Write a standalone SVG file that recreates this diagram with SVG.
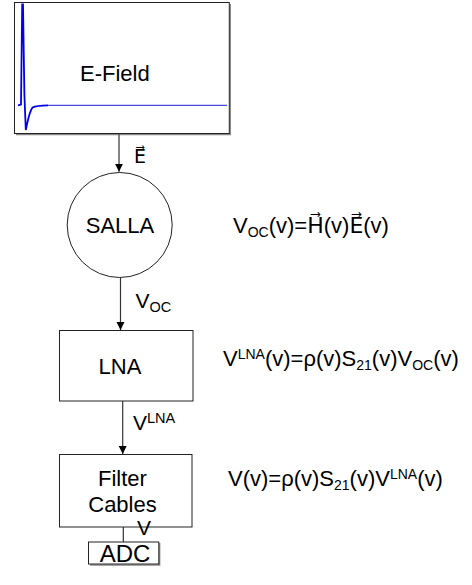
<svg xmlns="http://www.w3.org/2000/svg" width="472" height="585" viewBox="0 0 472 585">
<style>
text{font-family:"Liberation Sans",Arial,"DejaVu Sans",sans-serif;fill:#000}
.box{fill:#fff;stroke:#222;stroke-width:1}
.shadow{fill:none;stroke:#888;stroke-width:1.5}
.conn{stroke:#333;stroke-width:1.2;fill:none}
.big{font-size:22px}
.sub{font-size:14px}
</style>
<defs>
<marker id="ah" viewBox="0 0 10 10" refX="10" refY="5" markerWidth="8" markerHeight="10" markerUnits="userSpaceOnUse" orient="auto">
<path d="M0,0 L10,5 L0,10 Z" fill="#000"/>
</marker>
</defs>
<rect width="472" height="585" fill="#fff"/>

<g id="efield">
<polyline class="shadow" points="230.2,4 230.2,134.6 16,134.6"/>
<rect class="box" x="14.5" y="2.5" width="214.8" height="131"/>
<path d="M18,105.3 L21,104.5 L22.2,4.5 L23,4.5 L24.4,95 L25.8,130 C27.2,124 29,112 32.5,107.5 C35.5,105.8 40,105.4 48,105.3" fill="none" stroke="#0000ee" stroke-width="1.8"/>
<path d="M48,105.3 L227,105.3" fill="none" stroke="#4a4ae0" stroke-width="1.2"/>
<text class="big" x="80" y="81">E-Field</text>
</g>

<g id="salla">
<circle cx="119.7" cy="225" r="52.5" fill="#fff" stroke="#222" stroke-width="1"/>
<text class="big" x="120" y="233" text-anchor="middle">SALLA</text>
</g>

<g id="lna">
<rect class="box" x="59.5" y="330.5" width="133.5" height="70.5"/>
<text class="big" x="120" y="374" text-anchor="middle">LNA</text>
</g>

<g id="filter">
<rect class="box" x="59.5" y="454.5" width="132.5" height="72.5"/>
<text class="big" x="122.5" y="486" text-anchor="middle">Filter</text>
<text class="big" x="122.5" y="511.7" text-anchor="middle">Cables</text>
</g>

<g id="adc">
<polyline class="shadow" points="159.6,543 159.6,565 90,565"/>
<rect class="box" x="88.5" y="542" width="70.3" height="22"/>
<text x="125" y="562" text-anchor="middle" font-size="24">ADC</text>
</g>

<g id="connectors">
<line class="conn" x1="119" y1="134.6" x2="119" y2="171.8" marker-end="url(#ah)"/>
<line class="conn" x1="120.5" y1="277.5" x2="120.5" y2="330" marker-end="url(#ah)"/>
<line class="conn" x1="122.7" y1="401" x2="122.7" y2="454" marker-end="url(#ah)"/>
<line class="conn" x1="123.3" y1="527" x2="123.3" y2="542"/>
</g>

<g id="labels">
<text x="134" y="163" font-size="19">E&#x20D7;</text>
<text x="135.5" y="308" font-size="21">V<tspan font-size="14.5" dy="4">OC</tspan></text>
<text x="133" y="430" font-size="21">V<tspan font-size="14.5" dy="-7">LNA</tspan></text>
<text x="137" y="535" font-size="21">V</text>
</g>

<g id="formulas">
<text class="big" x="233" y="232.7">V<tspan class="sub" dy="4">OC</tspan><tspan dy="-4">(v)=H&#x20D7;(v)E&#x20D7;(v)</tspan></text>
<text class="big" x="223" y="366">V<tspan class="sub" dy="-7">LNA</tspan><tspan dy="7">(v)=ρ(v)S</tspan><tspan class="sub" dy="4">21</tspan><tspan dy="-4">(v)V</tspan><tspan class="sub" dy="4">OC</tspan><tspan dy="-4">(v)</tspan></text>
<text class="big" x="228" y="486">V(v)=ρ(v)S<tspan class="sub" dy="4">21</tspan><tspan dy="-4">(v)V</tspan><tspan class="sub" dy="-7">LNA</tspan><tspan dy="7">(v)</tspan></text>
</g>
</svg>
